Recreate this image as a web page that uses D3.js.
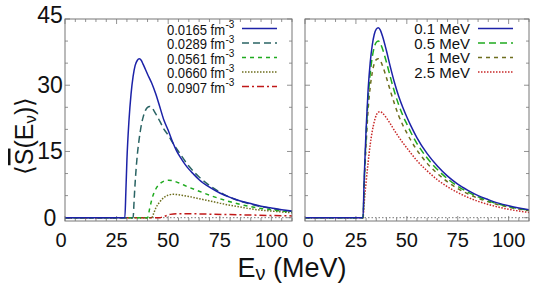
<!DOCTYPE html>
<html><head><meta charset="utf-8">
<script src="https://cdn.jsdelivr.net/npm/d3@7"></script>
<style>
body{margin:0;background:#fff;}
svg{display:block;font-family:"Liberation Sans",Arial,sans-serif;}
</style></head>
<body><svg id="c" width="553" height="285"></svg>
<script>
// ---------- data ----------
const xTicks = [0, 25, 50, 75, 100];
const yTicks = [0, 15, 30, 45];
const leftLabels = ["0.0165", "0.0289", "0.0561", "0.0660", "0.0907"];
const rightLabels = ["0.1 MeV", "0.5 MeV", "1 MeV", "2.5 MeV"];

const L1x = [0,29,29.5,30,31,32,33,34,35,36,37,38,40,42,44,46,48,50,52,54,56,58,60,62,65,70,75,80,85,90,95,100,105,110];
const L1y = [0,0,6,13,22,28,32,34.5,35.6,36,35.6,34.6,32.5,30.5,28,25,22,19.8,17.3,15.2,13.6,12.2,11,10,8.6,6.9,5.6,4.6,3.8,3.2,2.6,2.2,1.8,1.5];
const L2x = [0,33,33.5,34,35,36,37,38,39,40,41,42,43,44,46,48,50,52,55,60,65,70,75,80,85,90,95,100,105,110];
const L2y = [0,0,4,8,14,18,21,23,24.3,25,25.2,25,24.3,23.5,21.8,20,18.7,17.1,15,11.7,9.2,7.3,5.8,4.6,3.7,3.1,2.5,2.1,1.7,1.4];
const L3x = [0,40,41,42,43,44,46,48,50,52,55,60,65,70,75,80,85,90,95,100,105,110];
const L3y = [0,0,2,4,5.5,6.5,7.7,8.3,8.5,8.4,7.9,6.9,6.0,5.1,4.3,3.6,3.0,2.5,2.1,1.8,1.5,1.3];
const L4x = [0,42,43,44,46,48,50,52,55,60,65,70,75,80,85,90,95,100,105,110];
const L4y = [0,0,1,2.2,3.6,4.6,5.1,5.3,5.2,4.8,4.3,3.8,3.3,2.8,2.4,2.0,1.7,1.5,1.3,1.1];
const L5x = [0,46,47,49,51,55,60,70,80,90,100,110];
const L5y = [0,0,0.1,0.45,0.75,0.9,0.9,0.8,0.7,0.6,0.5,0.4];

const Rx = [0,28.5,29,30,31,32,33,34,35,36,37,38,40,42,44,46,48,50,52,55,60,65,70,75,80,85,90,95,100,105,110];
const R1y = [0,0,8,20,29,35,39,41.5,42.7,43,42.5,41.2,37.8,34,30.5,27.5,25,22.8,20.8,18.1,14.5,11.7,9.4,7.6,6.2,5.0,4.1,3.3,2.7,2.2,1.8];
const R2y = [0,0,7,18.5,27,32.5,36.3,38.6,39.7,40,39.5,38.3,35.2,31.7,28.4,25.6,23.2,21.2,19.3,16.8,13.5,10.9,8.8,7.1,5.8,4.7,3.8,3.1,2.5,2.05,1.7];
const R3y = [0,0,6.5,16.5,24.5,29.5,32.8,34.9,35.8,36,35.6,34.5,31.7,28.6,25.7,23.1,21,19.2,17.5,15.3,12.3,10,8.1,6.6,5.4,4.4,3.6,2.9,2.4,1.95,1.6];
const R4y = [0,0,3,8,12.5,16.5,19.5,21.7,23.2,23.9,24,23.7,22.6,21.2,19.7,18.3,17,15.8,14.6,12.9,10.6,8.6,7,5.7,4.6,3.7,3.0,2.4,1.9,1.5,1.2];

// ---------- layout ----------
const svg = d3.select("#c");
const pTop = 19, pBot = 221;
const y = d3.scaleLinear().domain([-0.75, 45]).range([pBot, pTop]);
const panels = [
  {x0: 65, x1: 292},
  {x0: 305, x1: 529}
];
const frameColor = "#777";

const leftSeries = [
  {xs: L1x, ys: L1y, color: "#1c22a8", dash: null},
  {xs: L2x, ys: L2y, color: "#2a6464", dash: "7,4"},
  {xs: L3x, ys: L3y, color: "#1faa1f", dash: "4,4"},
  {xs: L4x, ys: L4y, color: "#6e6e1e", dash: "1.5,1.5"},
  {xs: L5x, ys: L5y, color: "#c01818", dash: "7,3,2,3"}
];
const rightSeries = [
  {xs: Rx, ys: R1y, color: "#1c22a8", dash: null},
  {xs: Rx, ys: R2y, color: "#1faa1f", dash: "7,4"},
  {xs: Rx, ys: R3y, color: "#6e6e1e", dash: "4,4"},
  {xs: Rx, ys: R4y, color: "#c82828", dash: "1.5,1.5"}
];

function drawPanel(p, series, idx) {
  const x = d3.scaleLinear().domain([0, 110]).range([p.x0, p.x1]);
  const g = svg.append("g");
  const cid = "clip" + idx;
  svg.append("clipPath").attr("id", cid).append("rect")
    .attr("x", p.x0).attr("y", pTop).attr("width", p.x1 - p.x0).attr("height", pBot - pTop);
  const xt = d3.range(0, 111, 5);
  const yt = d3.range(0, 46, 5);
  xt.forEach(v => {
    const len = v % 25 === 0 ? 5 : 3;
    g.append("line").attr("x1", x(v)).attr("x2", x(v)).attr("y1", pBot).attr("y2", pBot - len).attr("stroke", frameColor).attr("stroke-width", 0.8);
    g.append("line").attr("x1", x(v)).attr("x2", x(v)).attr("y1", pTop).attr("y2", pTop + len).attr("stroke", frameColor).attr("stroke-width", 0.8);
  });
  yt.forEach(v => {
    const len = v % 15 === 0 ? 5 : 3;
    g.append("line").attr("x1", p.x0).attr("x2", p.x0 + len).attr("y1", y(v)).attr("y2", y(v)).attr("stroke", frameColor).attr("stroke-width", 0.8);
    g.append("line").attr("x1", p.x1).attr("x2", p.x1 - len).attr("y1", y(v)).attr("y2", y(v)).attr("stroke", frameColor).attr("stroke-width", 0.8);
  });
  g.append("line").attr("x1", p.x0).attr("x2", p.x1).attr("y1", y(0)).attr("y2", y(0))
    .attr("stroke", "#777").attr("stroke-width", 1).attr("stroke-dasharray", "1.5,2");
  const line = d3.line().curve(d3.curveMonotoneX);
  const cg = g.append("g").attr("clip-path", `url(#${cid})`);
  series.slice().reverse().forEach(s => {
    const pts = s.xs.map((v, i) => [x(v), y(s.ys[i])]);
    cg.append("path").attr("d", line(pts)).attr("fill", "none")
      .attr("stroke", s.color).attr("stroke-width", 1.5)
      .attr("stroke-dasharray", s.dash);
  });
  g.append("rect").attr("x", p.x0).attr("y", pTop).attr("width", p.x1 - p.x0).attr("height", pBot - pTop)
    .attr("fill", "none").attr("stroke", frameColor).attr("stroke-width", 1);
  xTicks.forEach(v => {
    g.append("text").attr("x", x(v) + (v === 0 ? (idx === 0 ? -4 : 3) : 0)).attr("y", 247).attr("text-anchor", "middle")
      .attr("font-size", 20).attr("fill", "#111").text(v);
  });
  return x;
}

const xl = drawPanel(panels[0], leftSeries, 0);
const xr = drawPanel(panels[1], rightSeries, 1);

yTicks.forEach(v => {
  svg.append("text").attr("x", 50).attr("y", y(v) + (v === 45 ? 4 : 8)).attr("text-anchor", "middle")
    .attr("font-size", 23).attr("fill", "#111").text(v);
});

const legL = svg.append("g");
leftSeries.forEach((s, i) => {
  const yy = 28.5 + i * 14.5;
  const tg = legL.append("g").attr("transform", `translate(225,${yy + 6}) scale(0.87,1)`);
  tg.append("text").attr("text-anchor", "end")
    .attr("font-size", 15).attr("fill", "#111").text(leftLabels[i] + " fm");
  legL.append("text").attr("x", 225.5).attr("y", yy - 0.5).attr("font-size", 10).attr("fill", "#111").text("-3");
  legL.append("line").attr("x1", 242).attr("x2", 277).attr("y1", yy).attr("y2", yy)
    .attr("stroke", s.color).attr("stroke-width", 1.5).attr("stroke-dasharray", s.dash);
});
const legR = svg.append("g");
rightSeries.forEach((s, i) => {
  const yy = 28.5 + i * 14.5;
  legR.append("text").attr("x", 470).attr("y", yy + 5.5).attr("text-anchor", "end")
    .attr("font-size", 15).attr("fill", "#111").text(rightLabels[i]);
  legR.append("line").attr("x1", 478).attr("x2", 513).attr("y1", yy).attr("y2", yy)
    .attr("stroke", s.color).attr("stroke-width", 1.5).attr("stroke-dasharray", s.dash);
});

const xTitle = svg.append("text").attr("x", 292).attr("y", 277).attr("text-anchor", "middle")
  .attr("font-size", 27).attr("fill", "#111");
xTitle.append("tspan").text("E");
xTitle.append("tspan").attr("font-size", 20).attr("dy", 3).text("ν");
xTitle.append("tspan").attr("dy", -3).text(" (MeV)");

const yTitle = svg.append("text").attr("transform", "translate(33,136) rotate(-90)")
  .attr("text-anchor", "middle").attr("font-size", 25).attr("fill", "#111");
yTitle.append("tspan").text("⟨");
yTitle.append("tspan").style("text-decoration", "overline").text("S");
yTitle.append("tspan").text("(E");
yTitle.append("tspan").attr("font-size", 17).attr("dy", 3).text("ν");
yTitle.append("tspan").attr("dy", -3).text(")");
yTitle.append("tspan").text("⟩");
</script></body></html>
